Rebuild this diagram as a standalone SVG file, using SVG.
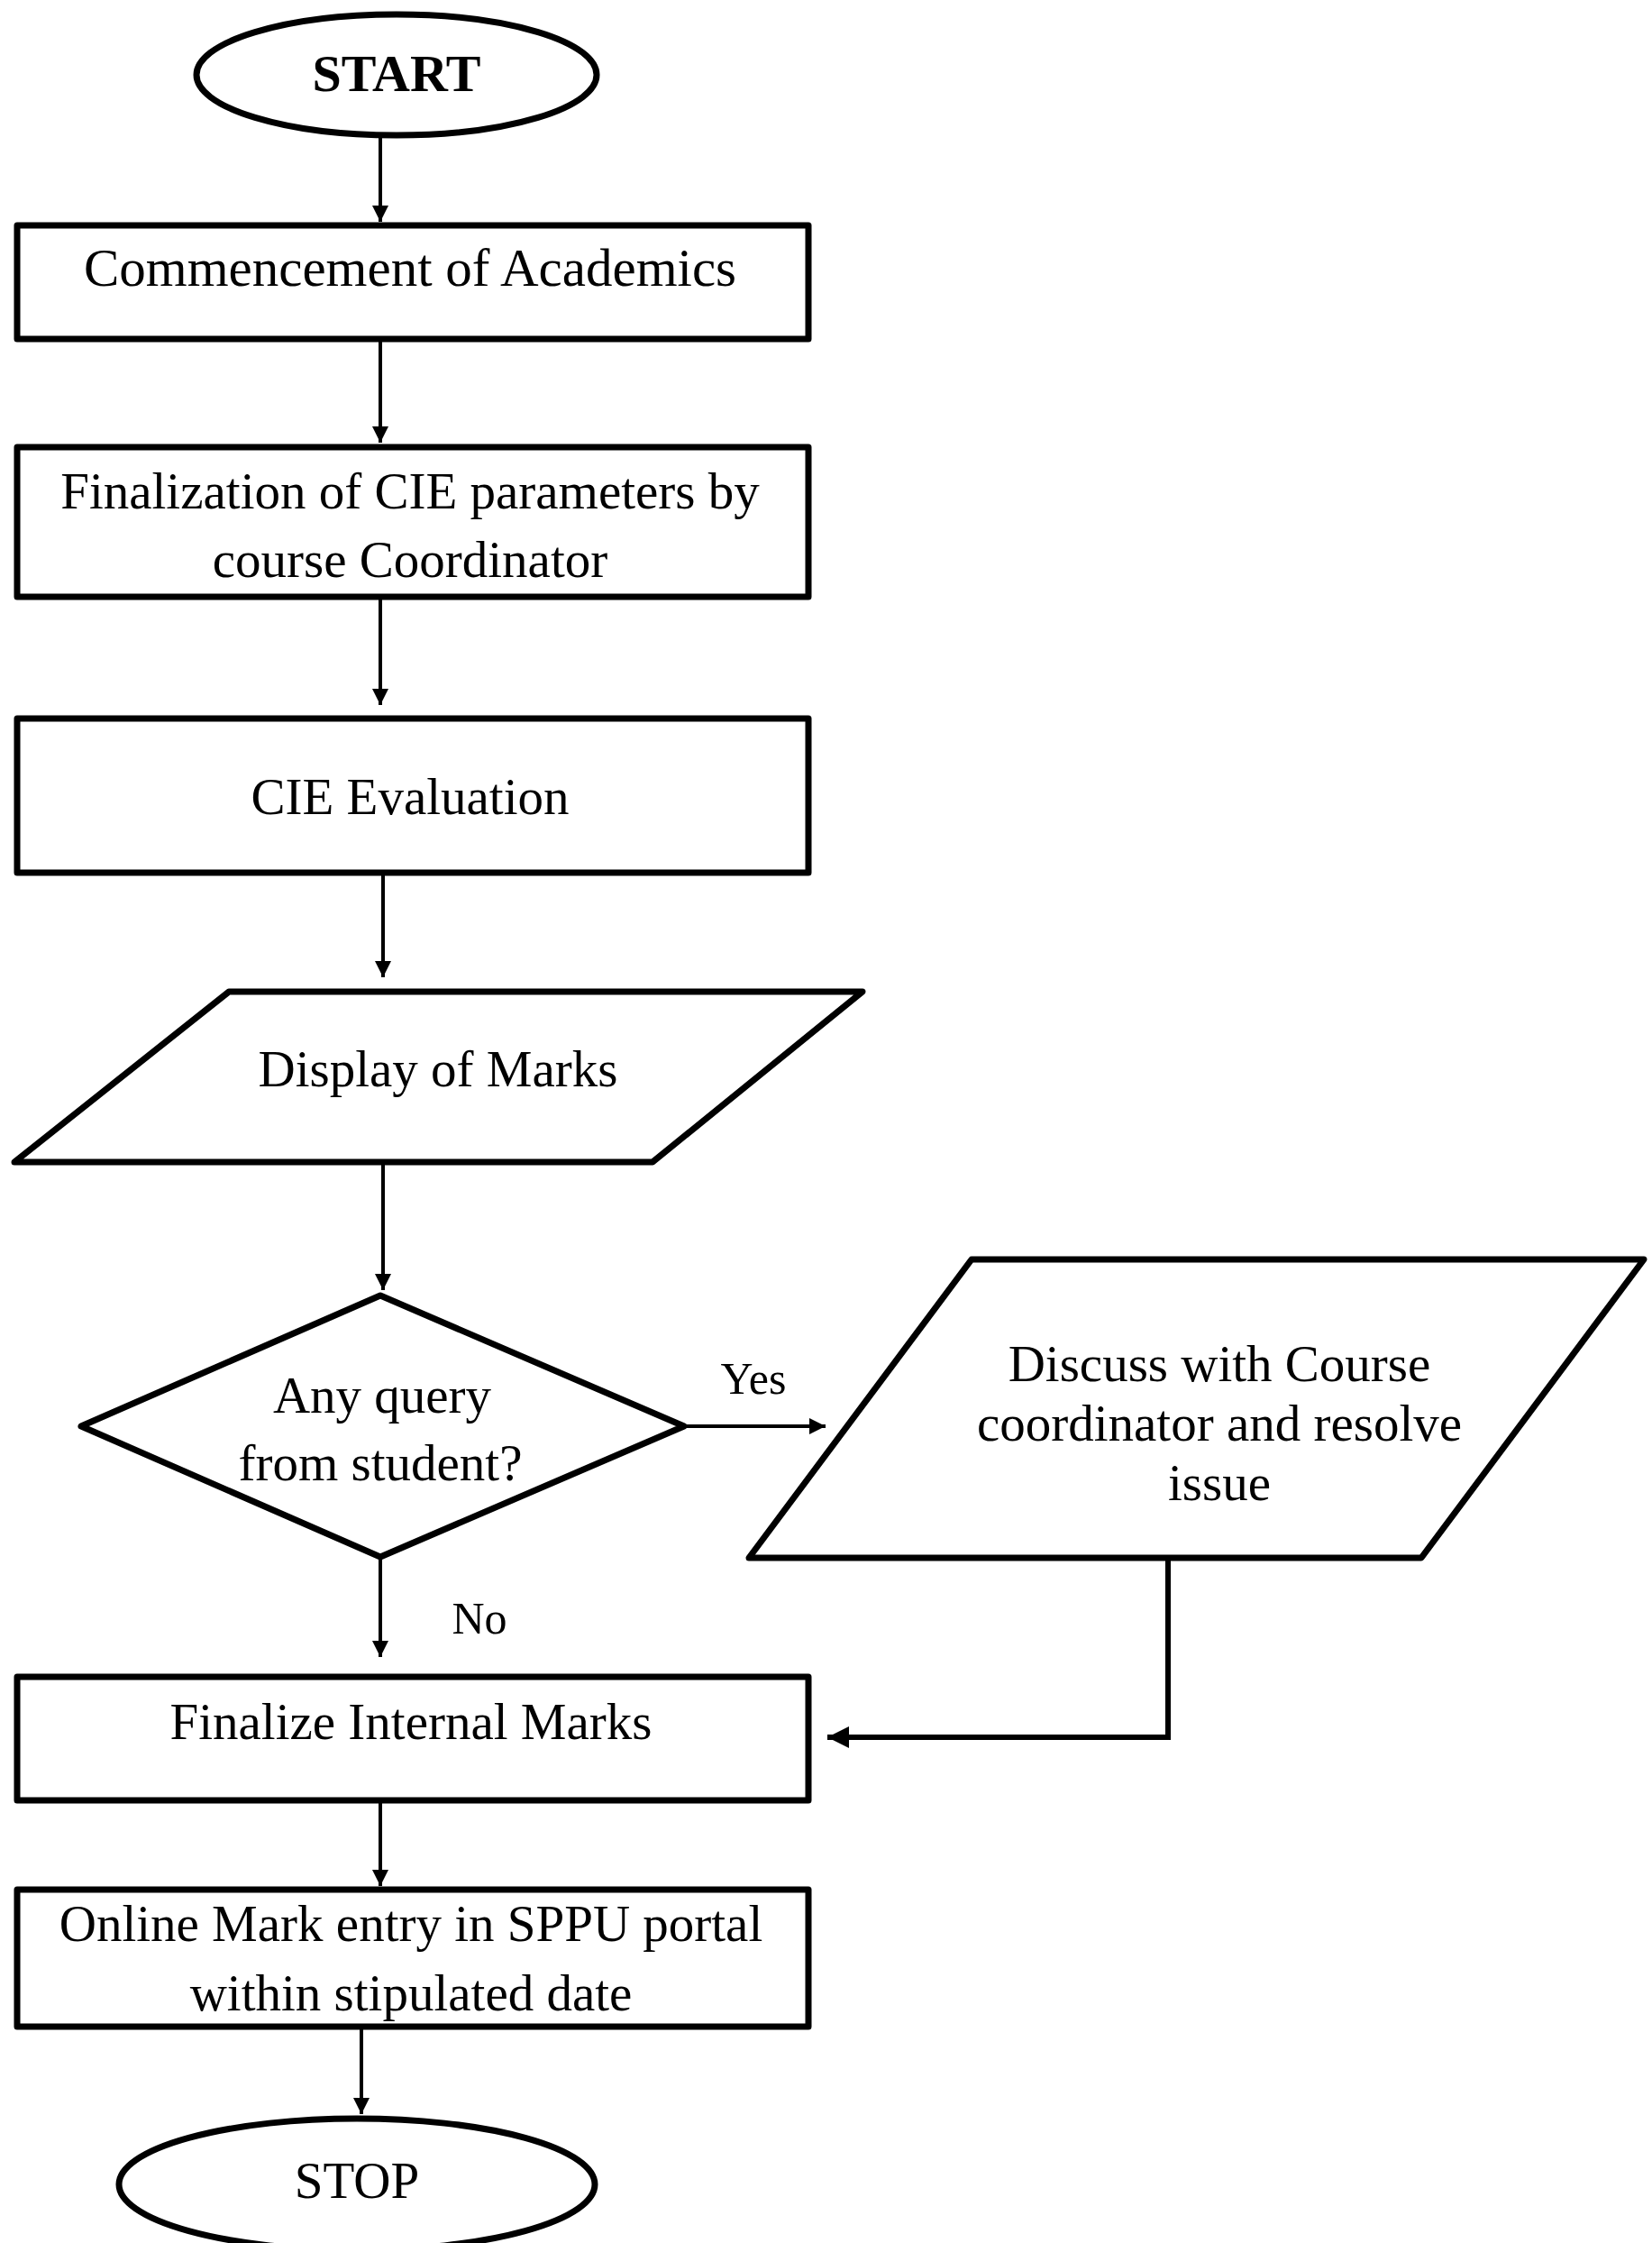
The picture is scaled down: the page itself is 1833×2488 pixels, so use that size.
<svg xmlns="http://www.w3.org/2000/svg" width="1833" height="2488" viewBox="0 0 1833 2488">
<style>
.shape{fill:#fff;stroke:#000;stroke-width:7;stroke-linejoin:round}
.conn{fill:none;stroke:#000;stroke-width:4}
.conn-thick{fill:none;stroke:#000;stroke-width:6}
.t{font-family:"Liberation Serif","Times New Roman",serif;font-size:57px;fill:#000;text-anchor:middle}
.lbl{font-family:"Liberation Serif","Times New Roman",serif;font-size:50px;fill:#000;text-anchor:middle}
</style>
<defs>
<marker id="ah" markerUnits="userSpaceOnUse" markerWidth="18" markerHeight="18" refX="18" refY="9" orient="auto">
<path d="M0,0 L18,9 L0,18 z" fill="#000"/>
</marker>
<marker id="ahBig" markerUnits="userSpaceOnUse" markerWidth="24" markerHeight="24" refX="24" refY="12" orient="auto">
<path d="M0,0 L24,12 L0,24 z" fill="#000"/>
</marker>
</defs>
<rect width="1833" height="2488" fill="#fff"/>
<g id="connectors">
<line class="conn" x1="422" y1="152" x2="422" y2="246" marker-end="url(#ah)"/>
<line class="conn" x1="422" y1="376" x2="422" y2="491" marker-end="url(#ah)"/>
<line class="conn" x1="422" y1="662" x2="422" y2="782" marker-end="url(#ah)"/>
<line class="conn" x1="425" y1="970" x2="425" y2="1084" marker-end="url(#ah)"/>
<line class="conn" x1="425" y1="1289" x2="425" y2="1431" marker-end="url(#ah)"/>
<line class="conn" x1="759" y1="1582" x2="916" y2="1582" marker-end="url(#ah)"/>
<line class="conn" x1="422" y1="1727" x2="422" y2="1838" marker-end="url(#ah)"/>
<path class="conn-thick" d="M1296,1727 V1927 H918" marker-end="url(#ahBig)"/>
<line class="conn" x1="422" y1="1997" x2="422" y2="2092" marker-end="url(#ah)"/>
<line class="conn" x1="401" y1="2249" x2="401" y2="2345" marker-end="url(#ah)"/>
<text class="lbl" x="836" y="1546">Yes</text>
<text class="lbl" x="532" y="1812">No</text>
</g>
<g id="start">
<ellipse class="shape" cx="440" cy="83" rx="222" ry="67"/>
<text class="t" x="440" y="101" style="font-weight:bold;font-size:58px">START</text>
</g>
<g id="commencement">
<rect class="shape" x="19" y="250" width="878" height="126"/>
<text class="t" x="455" y="317" style="font-size:59px">Commencement of Academics</text>
</g>
<g id="finalization">
<rect class="shape" x="19" y="496" width="878" height="166"/>
<text class="t" x="455" y="564">Finalization of CIE parameters by</text>
<text class="t" x="455" y="640">course Coordinator</text>
</g>
<g id="cie-evaluation">
<rect class="shape" x="19" y="797" width="878" height="171"/>
<text class="t" x="455" y="903">CIE Evaluation</text>
</g>
<g id="display-marks">
<polygon class="shape" points="254,1100 957,1100 724,1289 16,1289"/>
<text class="t" x="486" y="1205">Display of Marks</text>
</g>
<g id="query">
<polygon class="shape" points="422,1437 759,1582 422,1727 90,1582"/>
<text class="t" x="424" y="1567">Any query</text>
<text class="t" x="422" y="1642">from student?</text>
</g>
<g id="discuss">
<polygon class="shape" points="1078,1397 1824,1397 1577,1728 831,1728"/>
<text class="t" x="1353" y="1532">Discuss with Course</text>
<text class="t" x="1353" y="1598">coordinator and resolve</text>
<text class="t" x="1353" y="1664">issue</text>
</g>
<g id="finalize-internal">
<rect class="shape" x="19" y="1860" width="878" height="137"/>
<text class="t" x="456" y="1929">Finalize Internal Marks</text>
</g>
<g id="online-entry">
<rect class="shape" x="19" y="2096" width="878" height="152"/>
<text class="t" x="456" y="2153">Online Mark entry in SPPU portal</text>
<text class="t" x="456" y="2230">within stipulated date</text>
</g>
<g id="stop">
<ellipse class="shape" cx="396" cy="2423" rx="264" ry="73"/>
<text class="t" x="396" y="2438">STOP</text>
</g>
</svg>
